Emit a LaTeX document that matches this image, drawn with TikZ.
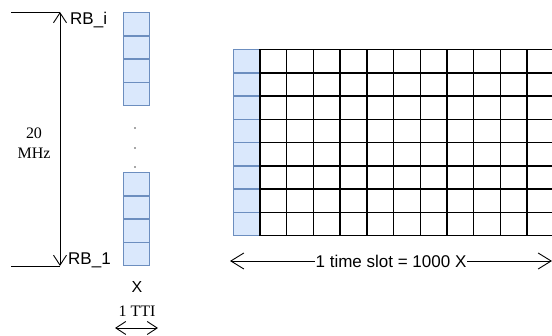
\documentclass[tikz,border=0pt]{standalone}
\usepackage{fontspec}
\setmainfont{Liberation Serif}
\setsansfont{Liberation Sans}
\usetikzlibrary{arrows.meta}
\definecolor{rbfill}{HTML}{DAE8FC}
\definecolor{rbline}{HTML}{6C8EBF}
\begin{document}
\begin{tikzpicture}[x=1pt,y=-1pt,
  rbcell/.style={draw=rbline, fill=rbfill, line width=1.3pt, minimum width=26.3pt, minimum height=23.25pt, inner sep=0pt, anchor=north west},
  gridcell/.style={draw=black, line width=1.4pt, minimum width=26.7pt, minimum height=23.25pt, inner sep=0pt, anchor=north west},
  barb/.tip={Straight Barb[length=10pt,width=13pt,line width=0.9pt]},
  bigbarb/.tip={Straight Barb[length=13pt,width=16pt,line width=0.9pt]},
  dimline/.style={line width=0.9pt, barb-barb},
  sflabel/.style={font=\sffamily\fontsize{17}{20}\selectfont, inner sep=0pt},
  rmlabel/.style={font=\rmfamily\fontsize{16}{20}\selectfont, inner sep=0pt, align=center},
  dotnode/.style={circle, fill=black!70, inner sep=0pt, minimum size=1.6pt}]
\useasboundingbox (0,0) rectangle (552,336);
% left stacks
\foreach \i in {0,...,3} {
  \node[rbcell] (top\i) at (122.7, {12+23.25*\i}) {};
  \node[rbcell] (bot\i) at (122.7, {172+23.25*\i}) {};
}
\node[dotnode] (d1) at (135,128) {};
\node[dotnode] (d2) at (135,148) {};
\node[dotnode] (d3) at (135,167) {};
% grid
\foreach \r in {0,...,7} {
  \node[rbcell] (g\r) at (233, {49+23.25*\r}) {};
}
\foreach \r in {0,...,7} {
  \foreach \c in {1,...,11} {
    \node[gridcell] (g\r-\c) at ({259.3+26.7*(\c-1)}, {49+23.25*\r}) {};
  }
}
% bandwidth dimension
\coordinate (vt) at (60,12);
\coordinate (vb) at (60,266);
\coordinate (ht) at (11,12);
\coordinate (hb) at (11,266);
\draw[line width=0.9pt] (ht) -- (vt);
\draw[line width=0.9pt] (hb) -- (vb);
\draw[dimline] (vb) -- (vt);
\node[sflabel, anchor=base west] (rbi) at (70,25) {RB\_i};
\node[sflabel, anchor=base west] (rb1) at (68,265) {RB\_1};
\node[rmlabel] (mhz) at (34,143) {20\\MHz};
% TTI
\node[sflabel, font=\sffamily\fontsize{16}{20}\selectfont] (x) at (137,287) {X};
\node[rmlabel] (tti) at (137,311) {1 TTI};
\coordinate (tl) at (115,328);
\coordinate (tr) at (158,328);
\draw[dimline] (tl) -- (tr);
% time slot
\coordinate (sl) at (230,261);
\coordinate (sr) at (552,261);
\draw[line width=0.9pt, bigbarb-bigbarb] (sl) -- (sr) node[pos=0.5, fill=white, sflabel, inner xsep=1pt] (slot) {1 time slot = 1000 X};
\end{tikzpicture}
\end{document}
